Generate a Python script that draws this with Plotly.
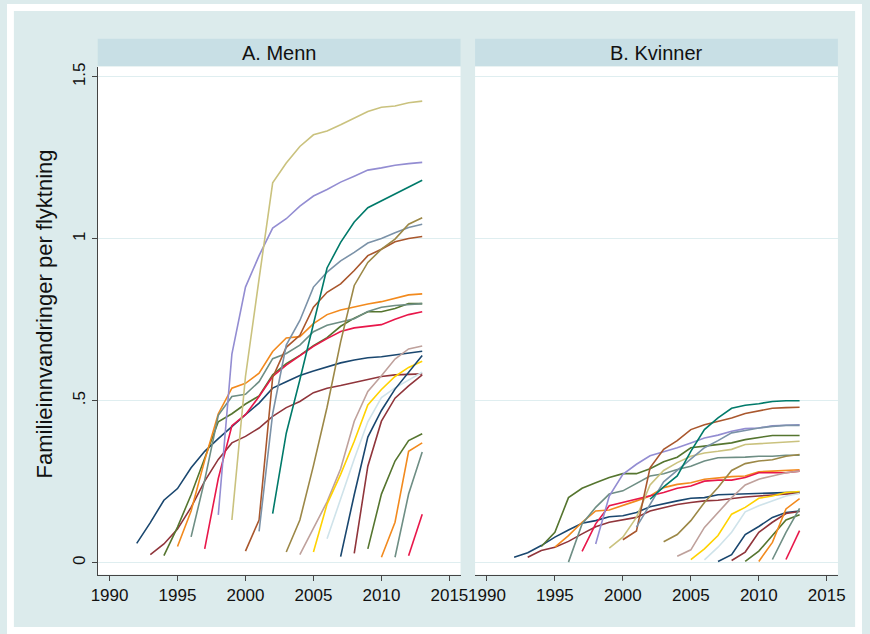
import plotly.graph_objects as go

# ---------------- data ----------------
cohorts = list(range(1992, 2013))
last_year = 2013
x_ticks = [1990, 1995, 2000, 2005, 2010, 2015]
y_ticks = [0, 0.5, 1, 1.5]
y_tick_labels = ["0", ".5", "1", "1.5"]
panel_titles = ["A. Menn", "B. Kvinner"]
y_title = "Familieinnvandringer per flyktning"

menn_1992 = [0.060, 0.124, 0.193, 0.229, 0.293, 0.344, 0.383, 0.421, 0.457, 0.493, 0.539, 0.559, 0.578, 0.592, 0.605, 0.617, 0.626, 0.633, 0.636, 0.641, 0.647, 0.653]
menn_1993 = [0.025, 0.058, 0.104, 0.171, 0.252, 0.319, 0.370, 0.390, 0.416, 0.452, 0.479, 0.498, 0.525, 0.539, 0.547, 0.557, 0.567, 0.575, 0.580, 0.582, 0.583]
menn_1994 = [0.022, 0.110, 0.210, 0.320, 0.435, 0.460, 0.490, 0.515, 0.580, 0.615, 0.640, 0.670, 0.695, 0.730, 0.755, 0.775, 0.775, 0.785, 0.800, 0.800]
menn_1995 = [0.050, 0.160, 0.316, 0.460, 0.539, 0.554, 0.585, 0.652, 0.694, 0.698, 0.738, 0.766, 0.780, 0.790, 0.799, 0.806, 0.817, 0.827, 0.830]
menn_1996 = [0.080, 0.255, 0.455, 0.513, 0.520, 0.559, 0.630, 0.646, 0.672, 0.713, 0.733, 0.743, 0.753, 0.776, 0.789, 0.794, 0.798, 0.800]
menn_1997 = [0.043, 0.260, 0.423, 0.457, 0.513, 0.575, 0.610, 0.638, 0.668, 0.692, 0.714, 0.725, 0.731, 0.735, 0.752, 0.766, 0.775]
menn_1998 = [0.148, 0.644, 0.851, 0.948, 1.033, 1.062, 1.101, 1.132, 1.152, 1.175, 1.193, 1.212, 1.219, 1.227, 1.232, 1.236]
menn_1999 = [0.132, 0.575, 0.876, 1.173, 1.234, 1.285, 1.321, 1.333, 1.352, 1.372, 1.393, 1.406, 1.410, 1.420, 1.425]
menn_2000 = [0.036, 0.132, 0.572, 0.665, 0.702, 0.789, 0.835, 0.861, 0.902, 0.948, 0.968, 0.991, 1.001, 1.007]
menn_2001 = [0.097, 0.460, 0.672, 0.748, 0.851, 0.897, 0.932, 0.958, 0.987, 1.001, 1.019, 1.035, 1.045]
menn_2002 = [0.152, 0.400, 0.565, 0.740, 0.910, 0.989, 1.052, 1.096, 1.117, 1.137, 1.160, 1.181]
menn_2003 = [0.033, 0.132, 0.300, 0.480, 0.682, 0.856, 0.927, 0.968, 0.999, 1.045, 1.065]
menn_2004 = [0.025, 0.106, 0.188, 0.290, 0.437, 0.529, 0.577, 0.629, 0.660, 0.669]
menn_2005 = [0.033, 0.181, 0.273, 0.375, 0.487, 0.535, 0.575, 0.603, 0.622]
menn_2006 = [0.074, 0.200, 0.320, 0.435, 0.510, 0.540, 0.565, 0.588]
menn_2007 = [0.019, 0.210, 0.388, 0.470, 0.536, 0.588, 0.640]
menn_2008 = [0.029, 0.298, 0.437, 0.508, 0.546, 0.580]
menn_2009 = [0.043, 0.212, 0.314, 0.377, 0.398]
menn_2010 = [0.017, 0.125, 0.344, 0.370]
menn_2011 = [0.017, 0.212, 0.342]
menn_2012 = [0.022, 0.150]

kvinner_1992 = [0.017, 0.031, 0.053, 0.079, 0.101, 0.122, 0.130, 0.142, 0.145, 0.155, 0.173, 0.183, 0.191, 0.199, 0.201, 0.210, 0.211, 0.214, 0.215, 0.216, 0.216, 0.218]
kvinner_1993 = [0.017, 0.038, 0.048, 0.066, 0.089, 0.111, 0.125, 0.132, 0.140, 0.160, 0.170, 0.180, 0.186, 0.191, 0.193, 0.199, 0.203, 0.206, 0.209, 0.213, 0.215]
kvinner_1994 = [0.050, 0.094, 0.201, 0.230, 0.247, 0.263, 0.275, 0.275, 0.290, 0.312, 0.326, 0.355, 0.360, 0.365, 0.370, 0.380, 0.387, 0.393, 0.393, 0.393]
kvinner_1995 = [0.048, 0.084, 0.125, 0.160, 0.163, 0.176, 0.191, 0.206, 0.232, 0.242, 0.247, 0.258, 0.263, 0.266, 0.268, 0.281, 0.283, 0.285, 0.287]
kvinner_1996 = [0.002, 0.120, 0.171, 0.212, 0.222, 0.245, 0.268, 0.275, 0.288, 0.298, 0.314, 0.324, 0.324, 0.326, 0.329, 0.329, 0.332, 0.332]
kvinner_1997 = [0.035, 0.120, 0.176, 0.186, 0.197, 0.206, 0.217, 0.230, 0.237, 0.252, 0.255, 0.255, 0.263, 0.278, 0.278, 0.278, 0.283]
kvinner_1998 = [0.058, 0.206, 0.273, 0.304, 0.330, 0.342, 0.355, 0.370, 0.385, 0.394, 0.406, 0.414, 0.416, 0.423, 0.424, 0.426]
kvinner_1999 = [0.045, 0.079, 0.140, 0.240, 0.285, 0.309, 0.329, 0.339, 0.344, 0.350, 0.365, 0.368, 0.370, 0.373, 0.375]
kvinner_2000 = [0.071, 0.098, 0.293, 0.350, 0.377, 0.411, 0.426, 0.437, 0.447, 0.461, 0.469, 0.477, 0.479, 0.480]
kvinner_2001 = [0.110, 0.180, 0.250, 0.285, 0.319, 0.355, 0.377, 0.401, 0.408, 0.416, 0.421, 0.424, 0.424]
kvinner_2002 = [0.196, 0.234, 0.268, 0.344, 0.411, 0.447, 0.477, 0.486, 0.491, 0.498, 0.500, 0.500]
kvinner_2003 = [0.065, 0.087, 0.130, 0.186, 0.232, 0.285, 0.306, 0.314, 0.318, 0.329, 0.334]
kvinner_2004 = [0.020, 0.040, 0.109, 0.155, 0.201, 0.240, 0.258, 0.268, 0.278, 0.283]
kvinner_2005 = [0.010, 0.043, 0.084, 0.150, 0.171, 0.199, 0.206, 0.217, 0.220]
kvinner_2006 = [0.009, 0.048, 0.094, 0.157, 0.176, 0.191, 0.206, 0.214]
kvinner_2007 = [0.004, 0.025, 0.087, 0.112, 0.140, 0.155, 0.160]
kvinner_2008 = [0.007, 0.033, 0.094, 0.125, 0.152, 0.158]
kvinner_2009 = [0.004, 0.036, 0.084, 0.132, 0.148]
kvinner_2010 = [0.004, 0.063, 0.166, 0.198]
kvinner_2011 = [0.010, 0.094, 0.168]
kvinner_2012 = [0.010, 0.099]

menn = [menn_1992, menn_1993, menn_1994, menn_1995, menn_1996, menn_1997, menn_1998,
        menn_1999, menn_2000, menn_2001, menn_2002, menn_2003, menn_2004, menn_2005,
        menn_2006, menn_2007, menn_2008, menn_2009, menn_2010, menn_2011, menn_2012]
kvinner = [kvinner_1992, kvinner_1993, kvinner_1994, kvinner_1995, kvinner_1996, kvinner_1997,
           kvinner_1998, kvinner_1999, kvinner_2000, kvinner_2001, kvinner_2002, kvinner_2003,
           kvinner_2004, kvinner_2005, kvinner_2006, kvinner_2007, kvinner_2008, kvinner_2009,
           kvinner_2010, kvinner_2011, kvinner_2012]

palette = ["#1a476f", "#90353b", "#55752f", "#f28a1e", "#6e8e84", "#e8174a", "#938dd2",
           "#cac27e", "#a9572d", "#7b92a8", "#007a6a", "#9c8847", "#bfa19c", "#ffd200",
           "#cfe3ea"]

# ---------------- figure ----------------
W, H = 870, 634
def fx(p):
    return p / W
def fy(p):
    return 1 - p / H

bg = "#dcebec"
strip = "#c8dfe5"
grid = "#dfeef0"
axcol = "#444444"
font = "Liberation Sans, Arial, sans-serif"

fig = go.Figure()
for i, c in enumerate(cohorts):
    years = list(range(c, last_year + 1))
    col = palette[i % len(palette)]
    fig.add_trace(go.Scatter(x=years, y=menn[i], mode="lines", line=dict(color=col, width=1.6),
                             xaxis="x", yaxis="y", showlegend=False, hoverinfo="skip"))
    fig.add_trace(go.Scatter(x=years, y=kvinner[i], mode="lines", line=dict(color=col, width=1.6),
                             xaxis="x2", yaxis="y2", showlegend=False, hoverinfo="skip"))

xr = [1989.13, 2015.82]
yr = [-0.0368, 1.5316]
ydom = [fy(574.3), fy(63)]

xcommon = dict(range=xr, tickvals=x_ticks, ticktext=[str(v) for v in x_ticks],
               showgrid=False, zeroline=False, showline=True, linecolor=axcol, linewidth=1.2,
               ticks="outside", ticklen=5, tickcolor=axcol, tickwidth=1.2,
               tickfont=dict(family=font, size=17, color="#111"), fixedrange=True)

fig.update_layout(
    width=W, height=H, margin=dict(l=0, r=0, t=0, b=0), autosize=False,
    paper_bgcolor=bg, plot_bgcolor="white",
    xaxis=dict(domain=[fx(92.3), fx(461.5)], anchor="y", **xcommon),
    xaxis2=dict(domain=[fx(476.3), fx(845.5)], anchor="y2", **xcommon),
    yaxis=dict(domain=ydom, range=yr, tickvals=y_ticks, ticktext=y_tick_labels,
               tickangle=-90, showgrid=True, gridcolor=grid, gridwidth=1.2, zeroline=False,
               showline=True, linecolor=axcol, linewidth=1.2, ticks="outside", ticklen=5,
               tickcolor=axcol, tickwidth=1.2, anchor="x",
               tickfont=dict(family=font, size=17, color="#111"), fixedrange=True),
    yaxis2=dict(domain=ydom, range=yr, tickvals=y_ticks, showticklabels=False,
                showgrid=True, gridcolor=grid, gridwidth=1.2, zeroline=False, showline=False,
                ticks="", anchor="x2", fixedrange=True),
)

def prect(x0, x1, y0, y1, color):
    return dict(type="rect", xref="paper", yref="paper", x0=fx(x0), x1=fx(x1), y0=fy(y1), y1=fy(y0),
                fillcolor=color, line=dict(width=0), layer="below")

shapes = [
    # white outer frame
    prect(0, 870, 0, 7, "white"), prect(0, 870, 627, 634, "white"),
    prect(0, 7, 0, 634, "white"), prect(863, 870, 0, 634, "white"),
    # panel header strips
    prect(92.3, 461.5, 35, 62.5, strip), prect(476.3, 845.5, 35, 62.5, strip),
]
fig.update_layout(shapes=shapes)

annotations = [
    dict(text=panel_titles[0], xref="paper", yref="paper", x=fx((92.3 + 461.5) / 2), y=fy(49),
         xanchor="center", yanchor="middle", showarrow=False, font=dict(family=font, size=20, color="#111")),
    dict(text=panel_titles[1], xref="paper", yref="paper", x=fx((476.3 + 845.5) / 2), y=fy(49),
         xanchor="center", yanchor="middle", showarrow=False, font=dict(family=font, size=20, color="#111")),
    dict(text=y_title, xref="paper", yref="paper", x=fx(38), y=fy(312), textangle=-90,
         xanchor="center", yanchor="middle", showarrow=False, font=dict(family=font, size=22, color="#111")),
]
fig.update_layout(annotations=annotations)

fig.write_html("out.html", config={"responsive": False, "displayModeBar": False},
               post_script="document.body.style.margin='0';document.body.style.overflow='hidden';")
